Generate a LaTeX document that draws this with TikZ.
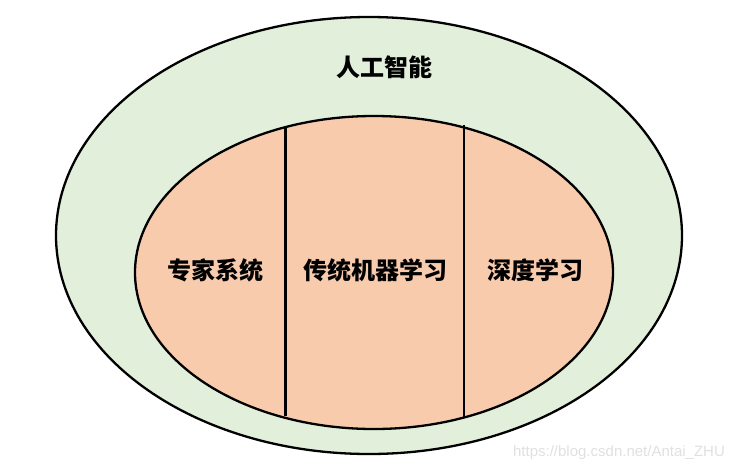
\documentclass[tikz,border=0pt]{standalone}
\usepackage{fontspec}
\newfontfamily\cjk{Noto Sans CJK SC}
\newfontfamily\wm{Liberation Sans}
\usetikzlibrary{shapes.geometric}
\definecolor{aigreen}{HTML}{E2EFDA}
\definecolor{mlorange}{HTML}{F8CBAD}
\tikzset{
  region/.style={ellipse, draw=black, line width=2.3pt, inner sep=0pt},
  label/.style={font=\cjk\bfseries\fontsize{24}{28}\selectfont, text=black, inner sep=0pt},
  divider/.style={draw=black, line width=2.3pt},
}
\begin{document}
\begin{tikzpicture}[x=1pt,y=-1pt]
\useasboundingbox (0,0) rectangle (740,472);
\node[region, fill=aigreen, minimum width=626pt, minimum height=437pt] (ai) at (369,235.5) {};
\node[region, fill=mlorange, minimum width=478pt, minimum height=313pt] (ml) at (374,272.5) {};
\coordinate (l1) at (285.5,127);
\coordinate (l2) at (285.5,416);
\coordinate (r1) at (464,125);
\coordinate (r2) at (464,418);
\draw[divider] (l1) -- (l2);
\draw[divider] (r1) -- (r2);
\node[label] (t0) at (384.5,67.5) {人工智能};
\node[label] (t1) at (215.5,270) {专家系统};
\node[label] (t2) at (375.5,270) {传统机器学习};
\node[label] (t3) at (535,270) {深度学习};
\node[font=\wm\fontsize{15}{18}\selectfont, text=black!12, inner sep=0pt] (w) at (619,453) {https://blog.csdn.net/Antai\_ZHU};
\end{tikzpicture}
\end{document}
